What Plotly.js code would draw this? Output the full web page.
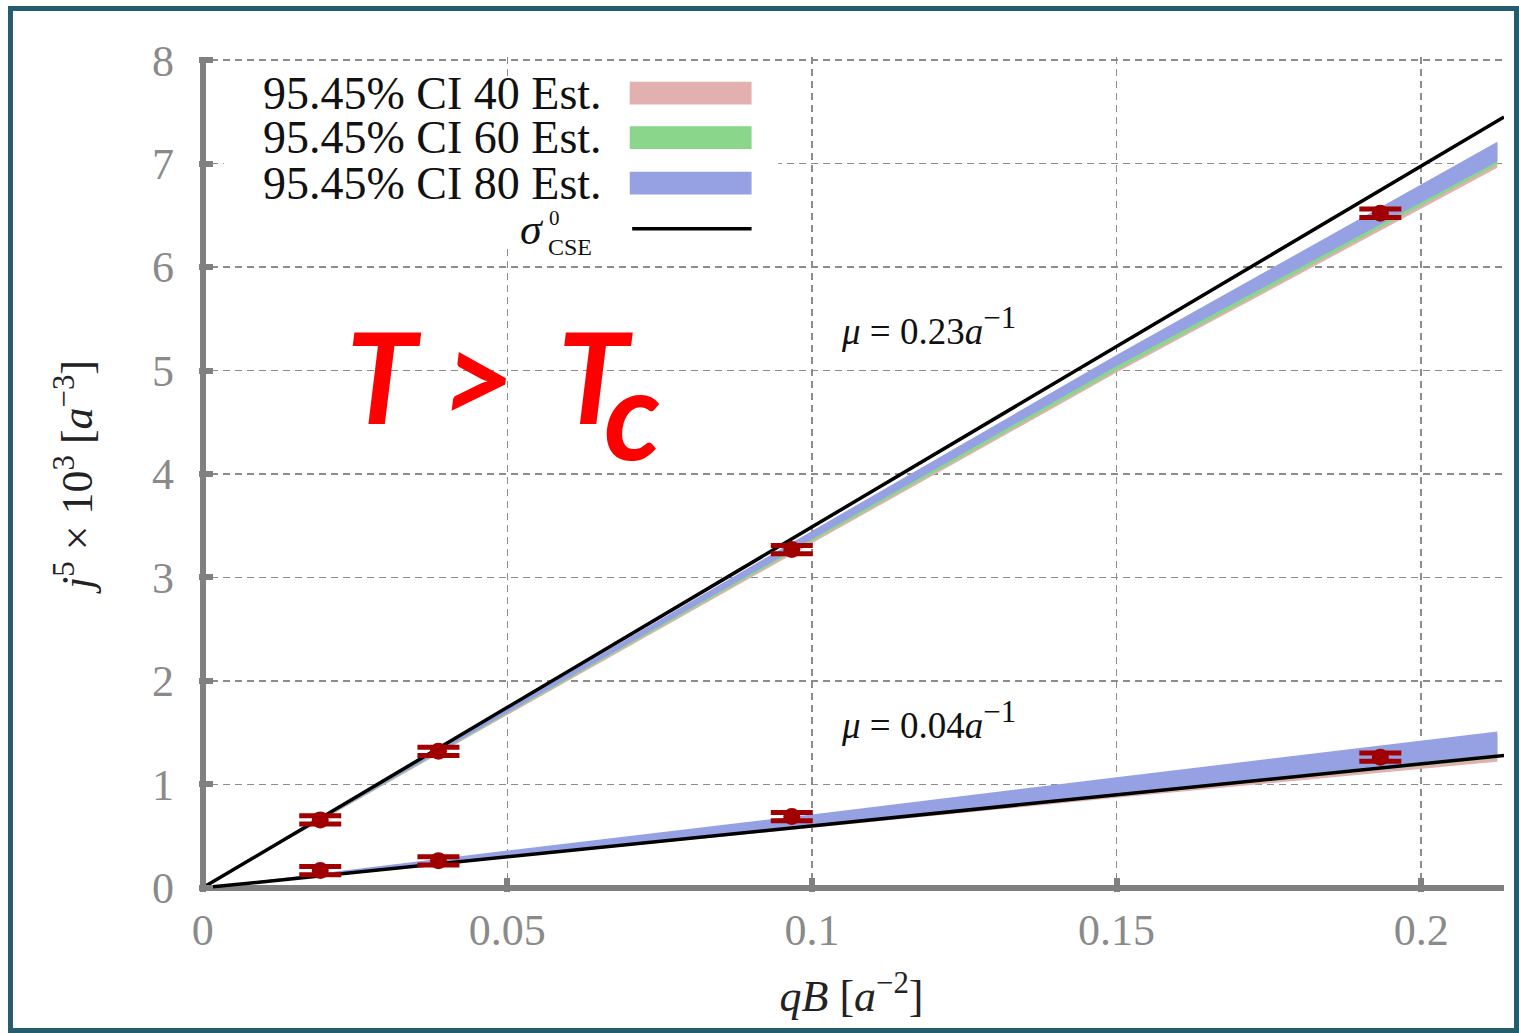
<!DOCTYPE html>
<html>
<head>
<meta charset="utf-8">
<script src="https://cdn.plot.ly/plotly-3.0.1.min.js"></script>
<style>
  html, body { margin: 0; padding: 0; background: #ffffff; }
  #chart { position: absolute; left: 0; top: 0; width: 1519px; height: 1033px; }
  #frame { position: absolute; left: 8px; top: 6px; width: 1511px; height: 1027px;
           border: 5px solid #225e6e; box-sizing: border-box; pointer-events: none; }
</style>
</head>
<body>
<div id="chart"></div>
<div id="frame"></div>
<script>
// Lattice measurements of j^5 (x 10^3) against qB
const qB = [0.0193, 0.0387, 0.0967, 0.1933];
const j5Mu023 = [0.657, 1.32, 3.27, 6.52];
const j5Mu004 = [0.167, 0.261, 0.689, 1.263];
const j5Err = [0.04, 0.04, 0.04, 0.04];

// Confidence bands (lower / upper edge) sampled along qB
const bandX = [0, 0.05, 0.1, 0.15, 0.2125];
const ci40HiLo = [0, 1.67, 3.33, 4.98, 6.96];
const ci40HiUp = [0, 1.72, 3.43, 5.12, 7.19];
const ci60HiLo = [0, 1.68, 3.35, 5.00, 6.99];
const ci60HiUp = [0, 1.72, 3.44, 5.13, 7.20];
const ci80HiLo = [0, 1.69, 3.37, 5.04, 7.02];
const ci80HiUp = [0, 1.73, 3.45, 5.15, 7.21];
const ci40LoLo = [0, 0.29, 0.58, 0.87, 1.22];
const ci40LoUp = [0, 0.35, 0.69, 1.04, 1.47];
const ci60LoLo = [0, 0.30, 0.59, 0.89, 1.25];
const ci60LoUp = [0, 0.35, 0.70, 1.05, 1.49];
const ci80LoLo = [0, 0.31, 0.61, 0.91, 1.29];
const ci80LoUp = [0, 0.36, 0.71, 1.07, 1.51];

// sigma_CSE^0 reference lines
const cseX = [0, 0.2136];
const cseMu023 = [0, 7.45];
const cseMu004 = [0, 1.28];

const xTicks = [0, 0.05, 0.1, 0.15, 0.2];
const xTickText = ['0', '0.05', '0.1', '0.15', '0.2'];
const yTicks = [0, 1, 2, 3, 4, 5, 6, 7, 8];

const legendLabels = ['95.45% CI 40 Est.', '95.45% CI 60 Est.', '95.45% CI 80 Est.'];
const bandColors = ['#e3b0b0', '#8ad68a', '#96a1e3'];

const serif = 'Liberation Serif, Times New Roman, serif';
const sans = 'Lato, Open Sans, sans-serif';

function band(lo, up, color) {
  return {
    type: 'scatter', mode: 'lines',
    x: bandX.concat(bandX.slice().reverse()),
    y: up.concat(lo.slice().reverse()),
    fill: 'toself', fillcolor: color,
    line: { width: 0, color: color },
    hoverinfo: 'skip', showlegend: false
  };
}

function cseLine(y) {
  return {
    type: 'scatter', mode: 'lines', x: cseX, y: y,
    line: { color: '#000000', width: 3.5 }, showlegend: false
  };
}

function points(y) {
  return {
    type: 'scatter', mode: 'markers', x: qB, y: y,
    marker: { color: '#a00000', size: 17, symbol: 'circle' },
    error_y: { type: 'data', array: j5Err, visible: true, color: '#a00000', thickness: 5, width: 21 },
    showlegend: false
  };
}

const traces = [
  band(ci40HiLo, ci40HiUp, bandColors[0]),
  band(ci60HiLo, ci60HiUp, bandColors[1]),
  band(ci80HiLo, ci80HiUp, bandColors[2]),
  band(ci40LoLo, ci40LoUp, bandColors[0]),
  band(ci60LoLo, ci60LoUp, bandColors[1]),
  band(ci80LoLo, ci80LoUp, bandColors[2]),
  cseLine(cseMu023),
  cseLine(cseMu004),
  points(j5Mu023),
  points(j5Mu004)
];

// Legend drawn by hand: label on the left, swatch on the right
const legendRowsY = [7.68, 7.25, 6.81];
const shapes = [
  { type: 'rect', xref: 'x', yref: 'y', x0: 0.0035, x1: 0.0945, y0: 6.2, y1: 7.8,
    fillcolor: '#ffffff', line: { width: 0 }, layer: 'between' }
];
legendRowsY.forEach((yy, i) => {
  shapes.push({ type: 'rect', xref: 'x', yref: 'y', x0: 0.0701, x1: 0.0901,
    y0: yy - 0.11, y1: yy + 0.11, fillcolor: bandColors[i], line: { width: 0 } });
});
shapes.push({ type: 'line', xref: 'x', yref: 'y', x0: 0.0705, x1: 0.0901, y0: 6.37, y1: 6.37,
  line: { color: '#000000', width: 3.5 } });

function note(x, y, text, size, color, family, xanchor) {
  return { xref: 'x', yref: 'y', x: x, y: y, xanchor: xanchor || 'left', yanchor: 'middle',
           text: text, showarrow: false, font: { family: family || serif, size: size, color: color || '#111111' } };
}

const annotations = legendRowsY.map((yy, i) => note(0.0658, yy, legendLabels[i], 46, '#111111', serif, 'right'));
// sigma with stacked super/subscript
annotations.push(note(0.0518, 6.36, '<i>σ</i>', 44));
annotations.push(note(0.0565, 6.47, '0', 21));
annotations.push(note(0.0563, 6.19, 'CSE', 24));
// chemical potential labels
const muSup = '<sup><span style="font-size:31px">−1</span></sup>';
annotations.push(note(0.1045, 5.43, '<i>μ</i>&nbsp;=&nbsp;0.23<i>a</i>' + muSup, 37));
annotations.push(note(0.1045, 1.62, '<i>μ</i>&nbsp;=&nbsp;0.04<i>a</i>' + muSup, 37));
// temperature regime marker
annotations.push(note(0.0232, 4.96, '<b><i>T &gt; \u2009T</i></b>', 127, '#ff0000', sans));
annotations.push(note(0.0655, 4.60, '<b><i>c</i></b>', 125, '#ff0000', sans));

const layout = {
  width: 1519, height: 1033,
  margin: { l: 199, r: 15, t: 57, b: 141, pad: 0 },
  paper_bgcolor: '#ffffff', plot_bgcolor: '#ffffff',
  showlegend: false,
  xaxis: {
    range: [-0.0006, 0.2136], tickvals: xTicks, ticktext: xTickText,
    showline: false, zeroline: true, zerolinecolor: '#808080', zerolinewidth: 6,
    showgrid: true, gridcolor: '#8c8c8c', gridwidth: 1.5, griddash: '7px,5px',
    ticks: 'inside', ticklen: 14, tickwidth: 6, tickcolor: '#808080',
    ticklabelstandoff: 8,
    tickfont: { family: serif, size: 44, color: '#8a8a8a' },
    title: { text: '<i>qB</i> [<i>a</i><sup>−2</sup>]', standoff: 26,
             font: { family: serif, size: 44, color: '#222222' } }
  },
  yaxis: {
    range: [-0.04, 8.03], tickvals: yTicks,
    showline: false, zeroline: true, zerolinecolor: '#808080', zerolinewidth: 6,
    showgrid: true, gridcolor: '#8c8c8c', gridwidth: 1.5, griddash: '7px,5px',
    ticks: 'inside', ticklen: 14, tickwidth: 6, tickcolor: '#808080',
    ticklabelstandoff: 24,
    tickfont: { family: serif, size: 44, color: '#8a8a8a' },
    title: { text: '<i>j</i><sup>5</sup> × 10<sup>3</sup> [<i>a</i><sup>−3</sup>]', standoff: 45,
             font: { family: serif, size: 44, color: '#222222' } }
  },
  shapes: shapes,
  annotations: annotations
};

Plotly.newPlot('chart', traces, layout, { staticPlot: true });
</script>
</body>
</html>
